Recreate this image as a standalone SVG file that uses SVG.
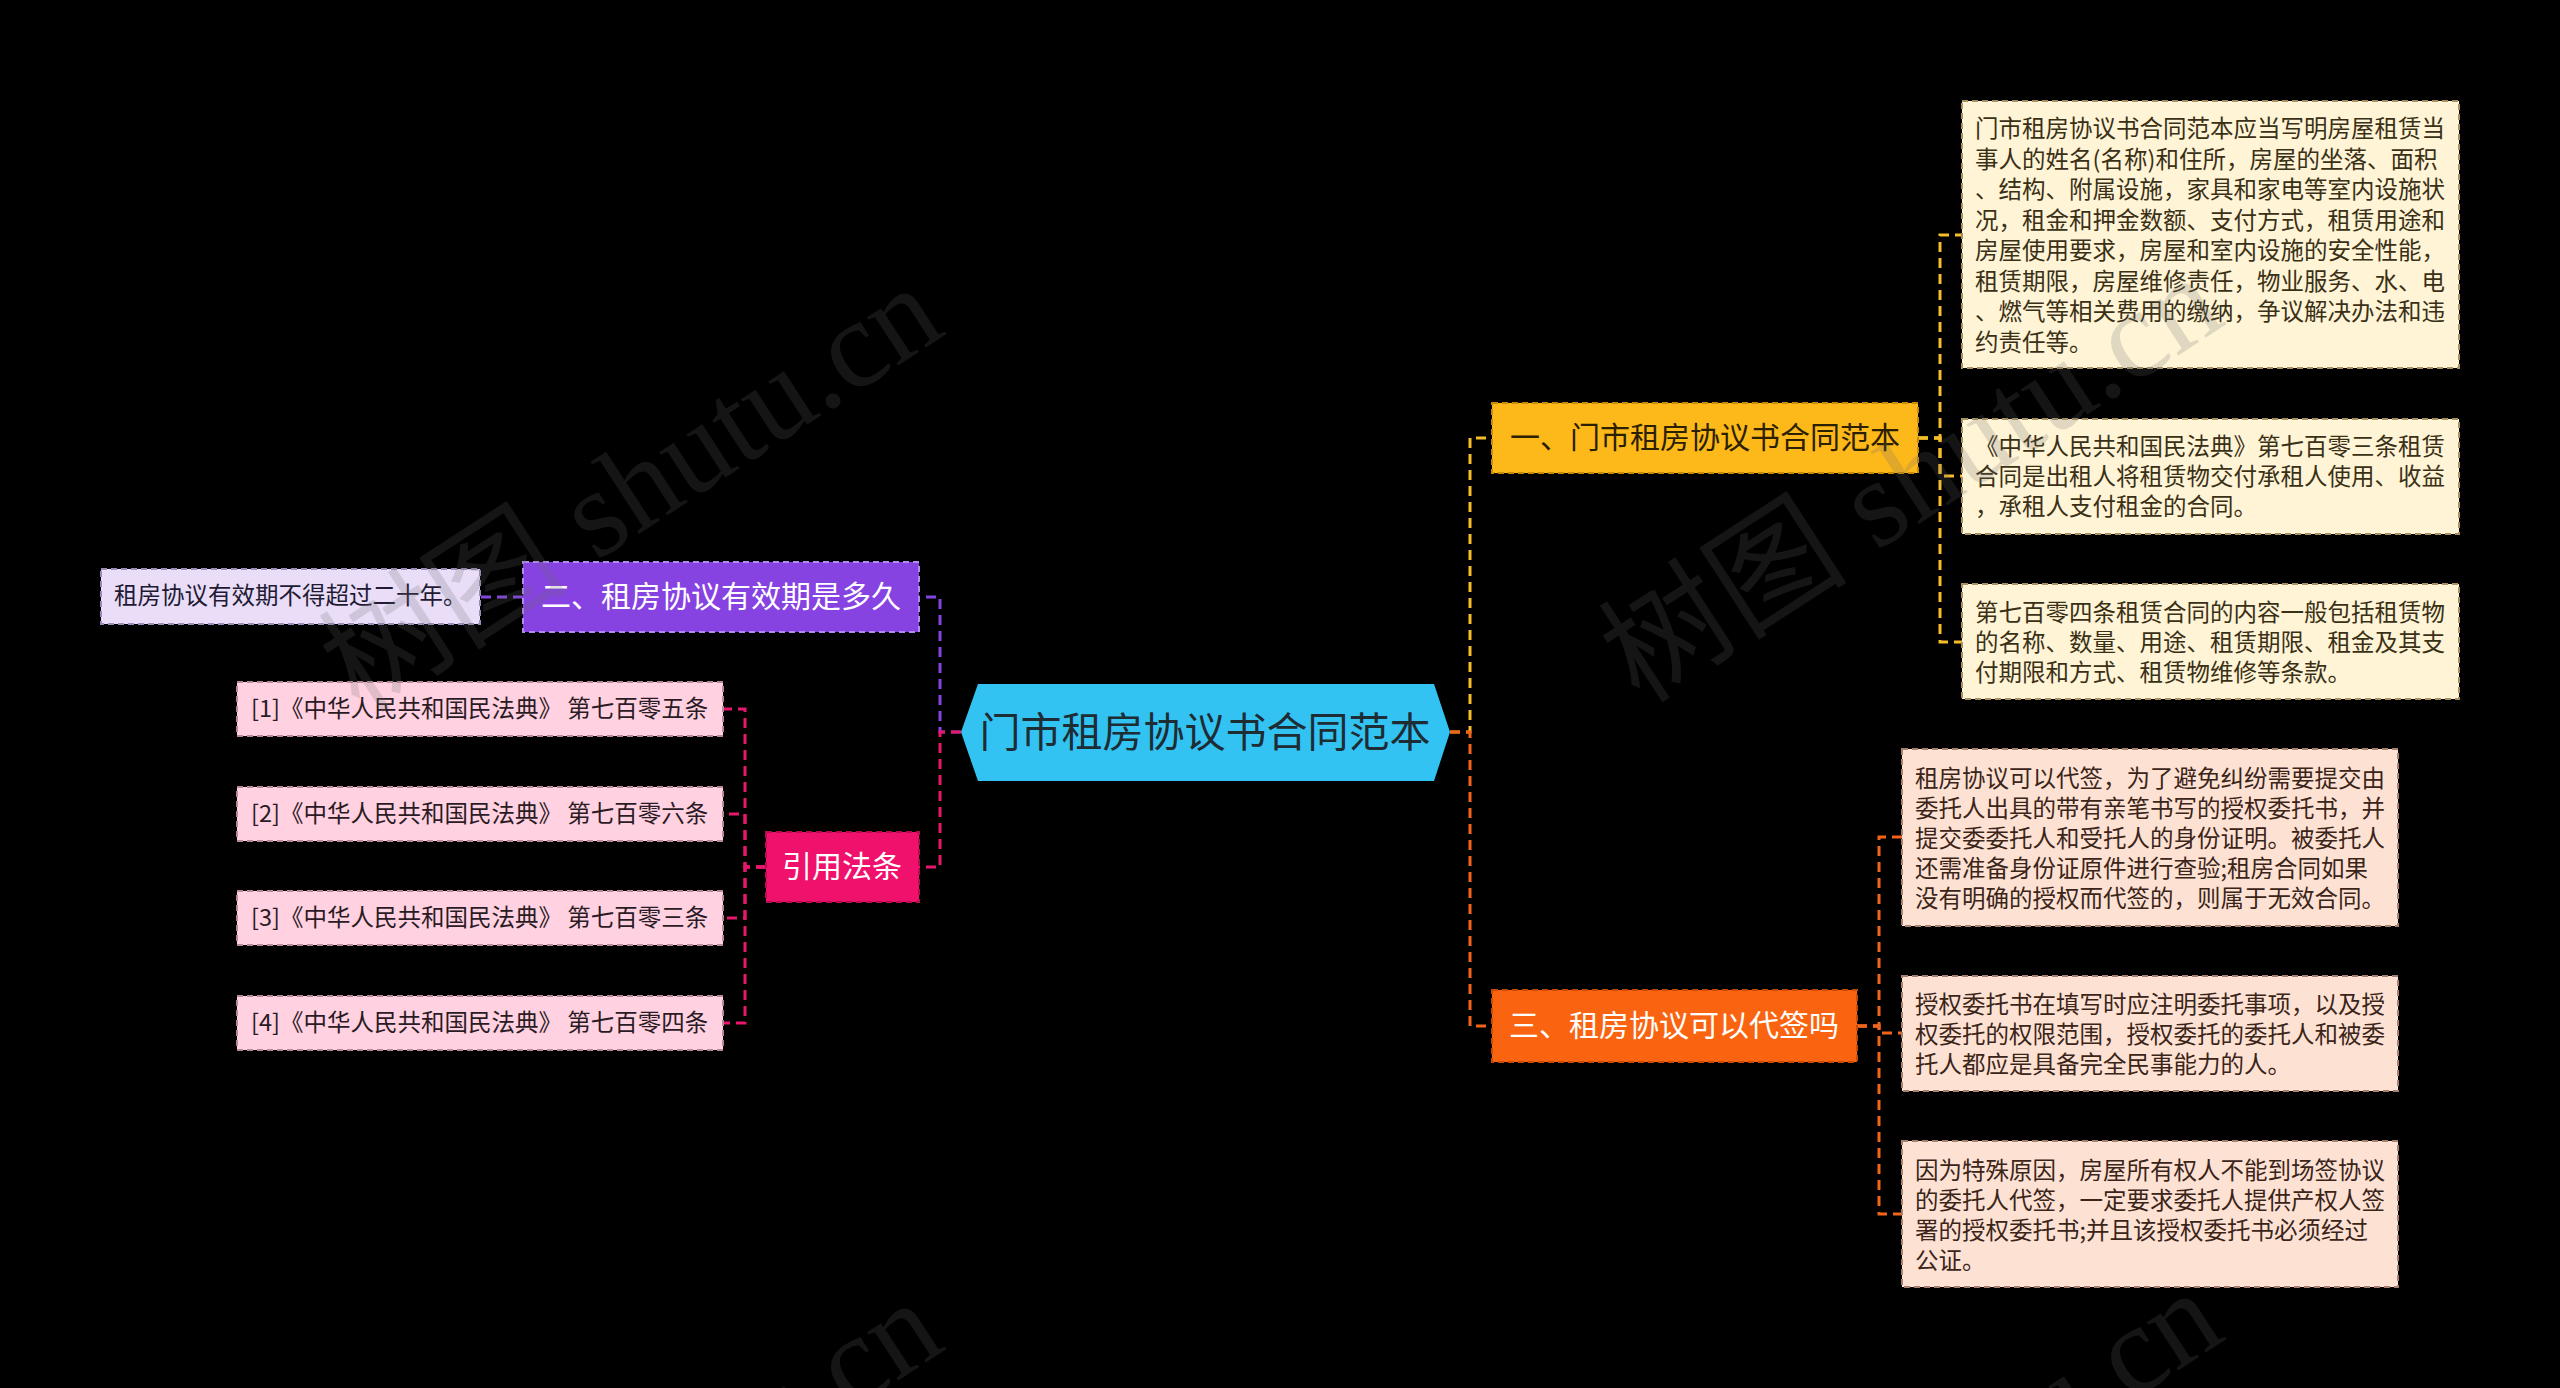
<svg xmlns="http://www.w3.org/2000/svg" width="2560" height="1388" viewBox="0 0 2560 1388">
<style>
.t{font-family:"Noto Sans CJK SC","Noto Sans",sans-serif;dominant-baseline:central}
.m{font-size:30px;text-anchor:middle}
.l{font-size:23.5px}
.c{fill:none;stroke-width:3;stroke-dasharray:10 6}
.b{stroke-width:2;stroke-dasharray:6 4}
.wm{font-family:"Liberation Serif","Noto Sans CJK SC",serif;font-size:125px;fill:#6a6a6a;opacity:0.2}
</style>
<rect width="2560" height="1388" fill="#000"/>
<g id="connectors">
<path class="c" stroke="#8246e0" d="M961,732 H940 V597 H919"/>
<path class="c" stroke="#e8176d" d="M961,732 H940 V867 H919"/>
<path class="c" stroke="#f5bd2a" d="M1450,732 H1470 V438 H1492"/>
<path class="c" stroke="#f2641a" d="M1450,732 H1470 V1026 H1492"/>
<path class="c" stroke="#8246e0" d="M523,597 H480"/>
<path class="c" stroke="#e8176d" d="M766,867 H745 V709 H723"/>
<path class="c" stroke="#e8176d" d="M766,867 H745 V814 H723"/>
<path class="c" stroke="#e8176d" d="M766,867 H745 V918 H723"/>
<path class="c" stroke="#e8176d" d="M766,867 H745 V1023 H723"/>
<path class="c" stroke="#f5bd2a" d="M1918,438 H1940 V235 H1962"/>
<path class="c" stroke="#f5bd2a" d="M1918,438 H1940 V476 H1962"/>
<path class="c" stroke="#f5bd2a" d="M1918,438 H1940 V642 H1962"/>
<path class="c" stroke="#f2641a" d="M1857,1026 H1879 V837 H1902"/>
<path class="c" stroke="#f2641a" d="M1857,1026 H1879 V1033 H1902"/>
<path class="c" stroke="#f2641a" d="M1857,1026 H1879 V1214 H1902"/>
</g>
<g id="center">
<polygon points="961,732 978,684 1434,684 1450,732 1434,781 978,781" fill="#33c3f3"/>
<text class="t" x="1205" y="729" font-size="41" text-anchor="middle" fill="#1e2c33">门市租房协议书合同范本</text>
</g>
<g id="n1">
<rect x="1492" y="403" width="426" height="70" fill="#fdb81a" stroke="#c98a05" class="b"/>
<text class="t m" x="1705" y="435" fill="#2b2000">一、门市租房协议书合同范本</text>
</g>
<g id="n1a">
<rect x="1962" y="101" width="497" height="267" fill="#fff4d6" stroke="#a89060" class="b"/>
<text class="t l" fill="#3a3016">
<tspan x="1975" y="127">门市租房协议书合同范本应当写明房屋租赁当</tspan>
<tspan x="1975" y="157.5">事人的姓名(名称)和住所，房屋的坐落、面积</tspan>
<tspan x="1975" y="188">、结构、附属设施，家具和家电等室内设施状</tspan>
<tspan x="1975" y="218.5">况，租金和押金数额、支付方式，租赁用途和</tspan>
<tspan x="1975" y="249">房屋使用要求，房屋和室内设施的安全性能，</tspan>
<tspan x="1975" y="279.5">租赁期限，房屋维修责任，物业服务、水、电</tspan>
<tspan x="1975" y="310">、燃气等相关费用的缴纳，争议解决办法和违</tspan>
<tspan x="1975" y="340.5">约责任等。</tspan>
</text>
</g>
<g id="n1b">
<rect x="1962" y="419" width="497" height="115" fill="#fff4d6" stroke="#a89060" class="b"/>
<text class="t l" fill="#3a3016">
<tspan x="1975" y="445">《中华人民共和国民法典》第七百零三条租赁</tspan>
<tspan x="1975" y="475">合同是出租人将租赁物交付承租人使用、收益</tspan>
<tspan x="1975" y="505">，承租人支付租金的合同。</tspan>
</text>
</g>
<g id="n1c">
<rect x="1962" y="584" width="497" height="115" fill="#fff4d6" stroke="#a89060" class="b"/>
<text class="t l" fill="#3a3016">
<tspan x="1975" y="611">第七百零四条租赁合同的内容一般包括租赁物</tspan>
<tspan x="1975" y="641">的名称、数量、用途、租赁期限、租金及其支</tspan>
<tspan x="1975" y="671">付期限和方式、租赁物维修等条款。</tspan>
</text>
</g>
<g id="n3">
<rect x="1492" y="990" width="365" height="72" fill="#fa6410" stroke="#c84a05" class="b"/>
<text class="t m" x="1674" y="1023" fill="#ffffff">三、租房协议可以代签吗</text>
</g>
<g id="n3a">
<rect x="1902" y="749" width="496" height="177" fill="#fde2d4" stroke="#a88070" class="b"/>
<text class="t l" fill="#3b2418">
<tspan x="1915" y="777">租房协议可以代签，为了避免纠纷需要提交由</tspan>
<tspan x="1915" y="807">委托人出具的带有亲笔书写的授权委托书，并</tspan>
<tspan x="1915" y="837">提交委委托人和受托人的身份证明。被委托人</tspan>
<tspan x="1915" y="867">还需准备身份证原件进行查验;租房合同如果</tspan>
<tspan x="1915" y="897">没有明确的授权而代签的，则属于无效合同。</tspan>
</text>
</g>
<g id="n3b">
<rect x="1902" y="976" width="496" height="115" fill="#fde2d4" stroke="#a88070" class="b"/>
<text class="t l" fill="#3b2418">
<tspan x="1915" y="1003">授权委托书在填写时应注明委托事项，以及授</tspan>
<tspan x="1915" y="1033">权委托的权限范围，授权委托的委托人和被委</tspan>
<tspan x="1915" y="1063">托人都应是具备完全民事能力的人。</tspan>
</text>
</g>
<g id="n3c">
<rect x="1902" y="1141" width="496" height="146" fill="#fde2d4" stroke="#a88070" class="b"/>
<text class="t l" fill="#3b2418">
<tspan x="1915" y="1169">因为特殊原因，房屋所有权人不能到场签协议</tspan>
<tspan x="1915" y="1199">的委托人代签，一定要求委托人提供产权人签</tspan>
<tspan x="1915" y="1229">署的授权委托书;并且该授权委托书必须经过</tspan>
<tspan x="1915" y="1259">公证。</tspan>
</text>
</g>
<g id="n2">
<rect x="523" y="562" width="396" height="70" fill="#8743e2" stroke="#b08af0" class="b"/>
<text class="t m" x="721" y="594" fill="#ffffff">二、租房协议有效期是多久</text>
</g>
<g id="n2a">
<rect x="101" y="569" width="379" height="55" fill="#e9ddf8" stroke="#9a8ab8" class="b"/>
<text class="t l" x="114" y="594" fill="#221a33">租房协议有效期不得超过二十年。</text>
</g>
<g id="n4">
<rect x="766" y="832" width="153" height="70" fill="#f0116c" stroke="#b80c50" class="b"/>
<text class="t m" x="842" y="864" fill="#ffffff">引用法条</text>
</g>
<g id="n4a">
<rect x="237" y="682" width="486" height="54" fill="#ffd1e1" stroke="#b88898" class="b"/>
<text class="t l" x="251" y="707" fill="#2a1b24">[1]《中华人民共和国民法典》 第七百零五条</text>
</g>
<g id="n4b">
<rect x="237" y="787" width="486" height="54" fill="#ffd1e1" stroke="#b88898" class="b"/>
<text class="t l" x="251" y="812" fill="#2a1b24">[2]《中华人民共和国民法典》 第七百零六条</text>
</g>
<g id="n4c">
<rect x="237" y="891" width="486" height="54" fill="#ffd1e1" stroke="#b88898" class="b"/>
<text class="t l" x="251" y="916" fill="#2a1b24">[3]《中华人民共和国民法典》 第七百零三条</text>
</g>
<g id="n4d">
<rect x="237" y="996" width="486" height="54" fill="#ffd1e1" stroke="#b88898" class="b"/>
<text class="t l" x="251" y="1021" fill="#2a1b24">[4]《中华人民共和国民法典》 第七百零四条</text>
</g>
<g id="watermark">
<text class="wm" transform="translate(360,715) rotate(-33)">树图 shutu.cn</text>
<text class="wm" transform="translate(1640,705) rotate(-33)">树图 shutu.cn</text>
<text class="wm" transform="translate(360,1730) rotate(-33)">树图 shutu.cn</text>
<text class="wm" transform="translate(1640,1720) rotate(-33)">树图 shutu.cn</text>
</g>
</svg>
